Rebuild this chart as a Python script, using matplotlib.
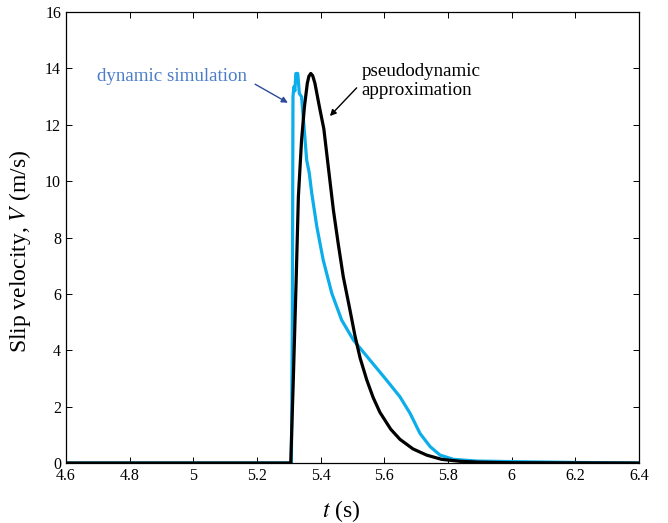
import matplotlib.pyplot as plt
from matplotlib import rcParams
from matplotlib.ticker import FormatStrFormatter

rcParams['font.family'] = ['Liberation Serif', 'DejaVu Serif']
rcParams['mathtext.fontset'] = 'stix'

# dynamic simulation (cyan)
t_dyn = [4.6, 5.308, 5.311, 5.313, 5.316, 5.319, 5.322, 5.328, 5.333, 5.340,
         5.346, 5.351, 5.356, 5.364, 5.372, 5.388, 5.408, 5.435, 5.466, 5.503,
         5.555, 5.607, 5.649, 5.681, 5.712, 5.744, 5.775, 5.817, 5.890,
         6.0, 6.2, 6.4]
v_dyn = [0.0, 0.0, 5.0, 13.0, 13.35, 13.2, 13.82, 13.82, 13.11, 12.99,
         12.17, 11.46, 10.75, 10.3, 9.57, 8.38, 7.20, 6.02, 5.07, 4.36,
         3.65, 2.94, 2.35, 1.76, 1.05, 0.58, 0.28, 0.13, 0.07,
         0.05, 0.02, 0.0]

# pseudodynamic approximation (black)
t_pd = [4.6, 5.306, 5.314, 5.323, 5.330, 5.340, 5.349, 5.358, 5.363, 5.369,
        5.375, 5.382, 5.396, 5.410, 5.424, 5.440, 5.455, 5.471, 5.492, 5.508,
        5.524, 5.545, 5.565, 5.586, 5.620, 5.649, 5.690, 5.733, 5.780, 5.838,
        5.900, 6.0, 6.4]
v_pd = [0.0, 0.0, 2.94, 6.49, 9.45, 11.46, 12.64, 13.47, 13.72, 13.82,
        13.74, 13.47, 12.64, 11.85, 10.5, 8.97, 7.79, 6.61, 5.43, 4.5,
        3.72, 2.94, 2.32, 1.8, 1.2, 0.84, 0.5, 0.28, 0.13, 0.06,
        0.03, 0.01, 0.0]

xticks = [4.6, 4.8, 5.0, 5.2, 5.4, 5.6, 5.8, 6.0, 6.2, 6.4]
yticks = [0, 2, 4, 6, 8, 10, 12, 14, 16]

fig = plt.figure(figsize=(6.68, 5.23), dpi=100)
ax = fig.add_subplot(111)
fig.subplots_adjust(left=0.0988, right=0.9566, top=0.977, bottom=0.1147)

ax.plot(t_dyn, v_dyn, color='#0BAEEA', lw=2.3)
ax.plot(t_pd, v_pd, color='black', lw=2.3)

ax.set_xlim(4.6, 6.4)
ax.set_ylim(0, 16)
ax.set_xticks(xticks)
ax.set_yticks(yticks)
ax.xaxis.set_major_formatter(FormatStrFormatter('%g'))
ax.tick_params(direction='in', top=True, right=True, length=4, labelsize=11.5, width=0.7)
for s in ax.spines.values():
    s.set_linewidth(0.9)

ax.set_xlabel('$t$ (s)', fontsize=17)
ax.set_ylabel('Slip velocity, $V$ (m/s)', fontsize=17)
ax.xaxis.set_label_coords(0.481, -0.0776)
ax.yaxis.set_label_coords(-0.0576, 0.47)

ax.text(5.169, 13.70, 'dynamic simulation', color='#4A7DC9', fontsize=13.7,
        ha='right', va='center')
ax.annotate('', xy=(5.297, 12.78), xytext=(5.194, 13.44),
            arrowprops=dict(arrowstyle='-|>', color='#2E4A9E', lw=1.0,
                            mutation_scale=9, shrinkA=0, shrinkB=0))
ax.annotate('', xy=(5.429, 12.31), xytext=(5.513, 13.31),
            arrowprops=dict(arrowstyle='-|>', color='black', lw=1.0,
                            mutation_scale=9, shrinkA=0, shrinkB=0))
ax.text(5.529, 13.56, 'pseudodynamic\napproximation', fontsize=13.7,
        ha='left', va='center', linespacing=1.15)

fig.savefig('out.png', dpi=100)
